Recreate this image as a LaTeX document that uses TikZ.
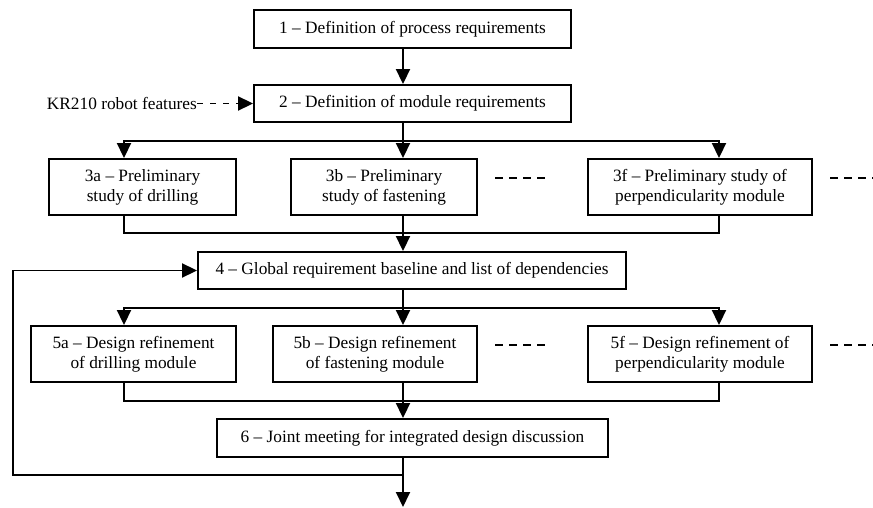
\documentclass[tikz,border=0pt]{standalone}
\usepackage{fontspec}
\setmainfont{Liberation Serif}
\usepackage{tikz}
\usetikzlibrary{arrows.meta, positioning}

\begin{document}
\begin{tikzpicture}[
    x=1pt, y=-1pt,
    font=\fontsize{17.3}{20}\selectfont,
    stage/.style={rectangle, draw, line width=1.9pt, text centered, align=center, inner sep=0pt, minimum height=38pt},
    twoline/.style={stage, minimum height=56pt},
    arrow/.style={line width=1.9pt, -{Triangle[length=15pt, width=14pt]}},
    link/.style={line width=1.9pt},
    input/.style={line width=1.9pt, dash pattern=on 6pt off 7pt, -{Triangle[length=15pt, width=14pt]}},
    etc/.style={line width=1.9pt, dash pattern=on 8pt off 6pt}
]
\useasboundingbox (0,0) rectangle (873,508);

% columns and levels of the connectors
\coordinate (colA) at (124,0);
\coordinate (spine) at (403,0);
\coordinate (colC) at (719,0);
\coordinate (b1) at (0,141);
\coordinate (m1) at (0,233);
\coordinate (b2) at (0,308);
\coordinate (m2) at (0,401);
\coordinate (back) at (13,475);
\coordinate (out) at (403,507);

% requirements
\node (req1) [stage, minimum width=317pt] at (412.5,29) {1 -- Definition of process requirements};
\node (req2) [stage, minimum width=317pt, minimum height=37pt] at (412.5,103.5) {2 -- Definition of module requirements};
\node (robot) [left=56pt of req2, inner sep=0pt] {KR210 robot features};

% preliminary studies
\node (pre3a) [twoline, minimum width=187pt] at (142.5,187) {3a -- Preliminary\\study of drilling};
\node (pre3b) [twoline, minimum width=186pt] at (384,187) {3b -- Preliminary\\study of fastening};
\node (pre3f) [twoline, minimum width=224pt] at (700,187) {3f -- Preliminary study of\\perpendicularity module};

% baseline
\node (base4) [stage, minimum width=428pt, minimum height=37pt] at (412,270.5) {4 -- Global requirement baseline and list of dependencies};

% design refinement
\node (ref5a) [twoline, minimum width=205pt] at (133.5,354) {5a -- Design refinement\\of drilling module};
\node (ref5b) [twoline, minimum width=204pt] at (375,354) {5b -- Design refinement\\of fastening module};
\node (ref5f) [twoline, minimum width=224pt] at (700,354) {5f -- Design refinement of\\perpendicularity module};

% joint meeting
\node (meet6) [stage, minimum width=391pt] at (412.5,438) {6 -- Joint meeting for integrated design discussion};

% main flow
\draw [arrow] (req1.south -| spine) -- (req2.north -| spine);
\draw [input] (robot.east) -- (req2.west);
\draw [arrow] (req2.south -| spine) -- (pre3b.north -| spine);
\draw [arrow] (spine |- b1) -| (pre3a.north -| colA);
\draw [arrow] (spine |- b1) -| (pre3f.north -| colC);
\draw [link] (pre3a.south -| colA) |- (spine |- m1);
\draw [link] (pre3f.south -| colC) |- (spine |- m1);
\draw [arrow] (pre3b.south -| spine) -- (base4.north -| spine);
\draw [arrow] (base4.south -| spine) -- (ref5b.north -| spine);
\draw [arrow] (spine |- b2) -| (ref5a.north -| colA);
\draw [arrow] (spine |- b2) -| (ref5f.north -| colC);
\draw [link] (ref5a.south -| colA) |- (spine |- m2);
\draw [link] (ref5f.south -| colC) |- (spine |- m2);
\draw [arrow] (ref5b.south -| spine) -- (meet6.north -| spine);
\draw [arrow] (meet6.south -| spine) -- (out);

% iteration back to the baseline
\draw [arrow] (spine |- back) -- (back) |- (base4.west);

% further modules
\draw [etc] (495,178) -- ++(50,0);
\draw [etc] (830,178) -- ++(50,0);
\draw [etc] (495,345) -- ++(50,0);
\draw [etc] (830,345) -- ++(50,0);

\end{tikzpicture}
\end{document}
